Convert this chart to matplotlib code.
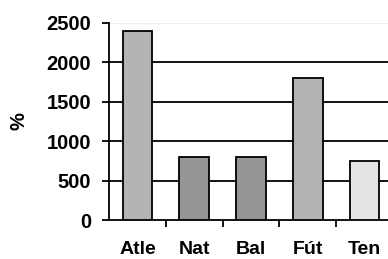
import numpy as np
from matplotlib import pyplot as plt

categories = ["Atle", "Nat", "Bal", "Fút", "Ten"]
values = [2400, 800, 800, 1800, 750]
colours = ["#b4b4b4", "#969696", "#969696", "#b4b4b4", "#e4e4e4"]
yticks = [0, 500, 1000, 1500, 2000, 2500]

plt.rcParams['font.family'] = ['Liberation Sans', 'DejaVu Sans']

fig = plt.figure(figsize=(3.88, 2.59), dpi=100)
ax = fig.add_axes([109 / 388, 39 / 259, 284 / 388, 197 / 259])

x = np.arange(len(categories))
ax.bar(x, values, width=0.52, color=colours, edgecolor="black", linewidth=1.3, zorder=3)

ax.set_xlim(-0.5, len(categories) - 0.5)
ax.set_ylim(0, 2500)
ax.set_yticks(yticks)
ax.set_yticklabels([str(v) for v in yticks], fontsize=14.5, fontweight="bold")
for v in yticks[1:-1]:
    ax.axhline(v, color="black", linewidth=1.3, zorder=1)
ax.axhline(2500, color="#eeeeee", linewidth=1.0, zorder=1)

ax.set_xticks(x + 0.5)
ax.set_xticklabels([])
ax.set_xticks(x, minor=True)
ax.set_xticklabels(categories, minor=True, fontsize=14, fontweight="bold")
ax.tick_params(axis="x", which="minor", length=0, pad=15)
ax.tick_params(axis="x", which="major", length=5, width=1.3, direction="out")
ax.tick_params(axis="y", length=5, width=1.3, direction="out", pad=8)

for s in ["top", "right"]:
    ax.spines[s].set_visible(False)
for s in ["left", "bottom"]:
    ax.spines[s].set_linewidth(1.3)

ax.set_ylabel("%", fontsize=14.5, fontweight="bold", labelpad=13)

fig.savefig("out.png", dpi=100)
